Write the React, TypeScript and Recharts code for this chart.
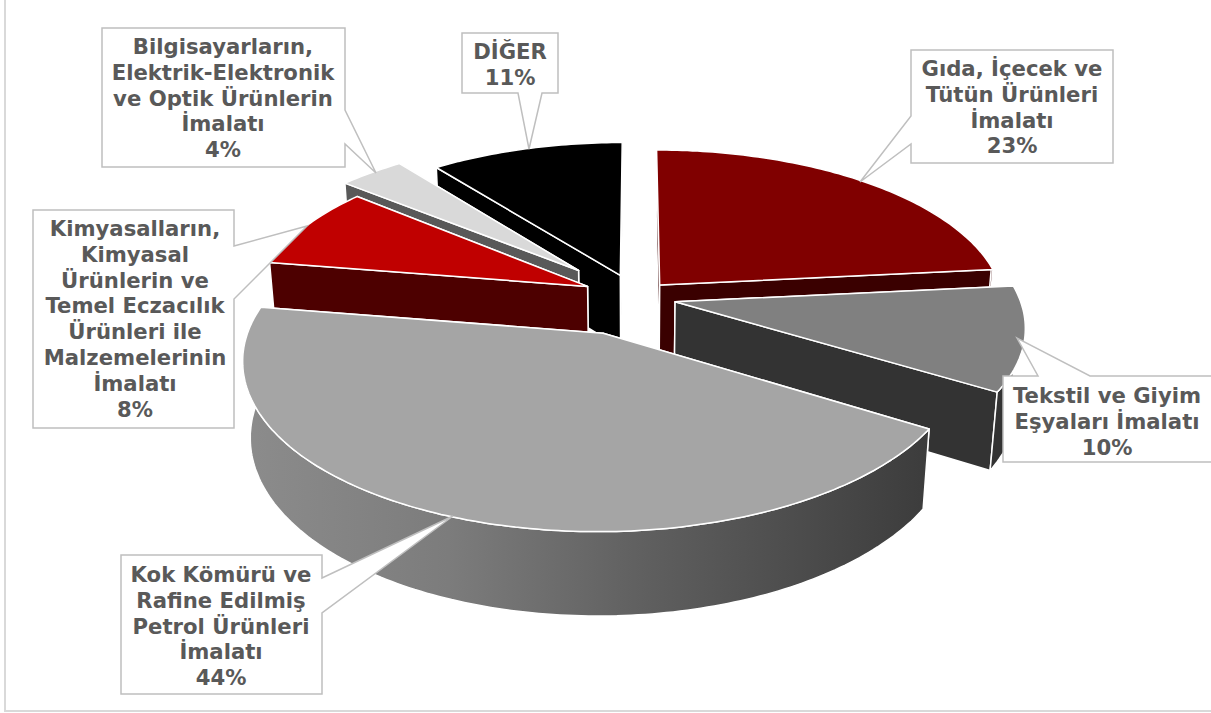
import { Pie, PieChart } from "recharts";

const categories = [
  "Gıda, İçecek ve Tütün Ürünleri İmalatı",
  "Tekstil ve Giyim Eşyaları İmalatı",
  "Kok Kömürü ve Rafine Edilmiş Petrol Ürünleri İmalatı",
  "Kimyasalların, Kimyasal Ürünlerin ve Temel Eczacılık Ürünleri ile Malzemelerinin İmalatı",
  "Bilgisayarların, Elektrik-Elektronik ve Optik Ürünlerin İmalatı",
  "DİĞER",
];
// labels show them rounded
const shares = [23.4, 10.4, 43.8, 8.4, 3.6, 10.5];

const rows = categories.map((name, i) => ({ name, value: shares[i] }));

// styling per slice, same order as categories
const topColors = ["#800000", "#808080", "#a5a5a5", "#c00000", "#d9d9d9", "#000000"];
const wallColors = ["#3a0000", "#333333", "url(#cokeWall)", "#4d0000", "#595959", "#000000"];
// how far each slice is pulled out, in the plane of the disc
const pullX = [25, 40, -31, -48, -58, -15];
const pullY = [33, -4, -70, 30, 66, 55];
const narrow = [1, 1, 1, 0.97, 1, 1];
// slices are painted back to front, not in data order
const paintOrder = [5, 0, 1, 4, 3, 2];

// 3d view of the disc
const TILT = (27.4 * Math.PI) / 180;
const FOCAL = 2100;
const HEIGHT = 85;

function project(cx: number, cy: number, X: number, Y: number, Z: number) {
  const depth = Y * Math.cos(TILT) - Z * Math.sin(TILT);
  const up = Y * Math.sin(TILT) + Z * Math.cos(TILT);
  const s = FOCAL / (FOCAL + depth);
  return [cx + X * s, cy - up * s];
}

const toPath = (pts: number[][]) =>
  "M" + pts.map((p) => `${p[0].toFixed(1)},${p[1].toFixed(1)}`).join("L") + "Z";

const sinOf = (deg: number) => Math.sin((deg * Math.PI) / 180);

function Slice3D(props: any) {
  const { cx, cy, outerRadius, startAngle, endAngle, index } = props;
  const ox = pullX[index];
  const oy = pullY[index];
  const at = (deg: number | null, z: number) => {
    if (deg === null) return project(cx, cy, ox, oy, z);
    const a = (deg * Math.PI) / 180;
    return project(cx, cy, ox + outerRadius * narrow[index] * Math.cos(a), oy + outerRadius * Math.sin(a), z);
  };
  const arcAngles: number[] = [];
  const steps = Math.max(8, Math.ceil(Math.abs(endAngle - startAngle)));
  for (let i = 0; i <= steps; i++) arcAngles.push(startAngle + ((endAngle - startAngle) * i) / steps);

  // only the part of the rim that faces the viewer gets a wall
  const frontAngles = arcAngles.filter((a) => sinOf(a) <= 0.12);
  // the cut face further back goes first
  const cuts = sinOf(startAngle) > sinOf(endAngle) ? [startAngle, endAngle] : [endAngle, startAngle];
  const topArc = arcAngles.map((a) => at(a, 0));
  const apex = at(null, 0);
  const apexLow = at(null, -HEIGHT);
  const wall = wallColors[index];
  const flat = wall.startsWith("url") ? "#5a5a5a" : wall;
  const line = { stroke: "#ffffff", strokeWidth: 1.5, strokeLinejoin: "round" as const };
  return (
    <g>
      {cuts.map((a) => (
        <path key={a} d={toPath([apex, at(a, 0), at(a, -HEIGHT), apexLow])} fill={flat} {...line} />
      ))}
      {frontAngles.length > 1 && (
        <path
          d={toPath([
            ...frontAngles.map((a) => at(a, 0)),
            ...frontAngles.map((a) => at(a, -HEIGHT)).reverse(),
          ])}
          fill={wall}
          {...line}
        />
      )}
      <path d={toPath([apex, ...topArc])} fill={topColors[index]} {...line} />
    </g>
  );
}

// callout outlines and text anchors, same order as categories
const calloutLines = [
  ["Gıda, İçecek ve", "Tütün Ürünleri", "İmalatı"],
  ["Tekstil ve Giyim", "Eşyaları İmalatı"],
  ["Kok Kömürü ve", "Rafine Edilmiş", "Petrol Ürünleri", "İmalatı"],
  ["Kimyasalların,", "Kimyasal", "Ürünlerin ve", "Temel Eczacılık", "Ürünleri ile", "Malzemelerinin", "İmalatı"],
  ["Bilgisayarların,", "Elektrik-Elektronik", "ve Optik Ürünlerin", "İmalatı"],
  ["DİĞER"],
];
const calloutPaths = [
  "M911,50H1113V163H911V144L860,182L911,116Z",
  "M1003,376H1038L1017,338L1090,376H1240V462H1003Z",
  "M121,555H322V578L453,516L322,613V694H121Z",
  "M33,210H234V246L307,226L234,299V428H33Z",
  "M102,28H345V110L376,173L345,144V167H102Z",
  "M462,33H558V93H542L529,149L518,93H462Z",
];
const calloutText = [
  [1012, 76],
  [1107, 403],
  [221, 582],
  [135, 236],
  [223, 54],
  [510, 59],
];

function Callout(props: any) {
  const { index } = props;
  const [x, y] = calloutText[index];
  const lines = [...calloutLines[index], `${Math.round(shares[index])}%`];
  return (
    <g>
      <path d={calloutPaths[index]} fill="#ffffff" stroke="#bfbfbf" strokeWidth={1.5} />
      <text
        x={x}
        y={y}
        textAnchor="middle"
        fontFamily="'DejaVu Sans'"
        fontWeight="bold"
        fontSize={21.2}
        fill="#595959"
      >
        {lines.map((l, i) => (
          <tspan key={i} x={x} y={y + i * 25.8}>
            {l}
          </tspan>
        ))}
      </text>
    </g>
  );
}

export default function App() {
  return (
    <div style={{ position: "absolute", left: 0, top: 0, width: 1211, height: 713, background: "#fff", overflow: "hidden" }}>
      <div style={{ position: "absolute", left: 4, top: -2, width: 1210, height: 714, border: "2px solid #d9d9d9", boxSizing: "border-box" }} />
      <PieChart
        width={1211}
        height={713}
        margin={{ top: 0, right: 0, bottom: 0, left: 0 }}
        style={{ position: "absolute", left: 0, top: 0 }}
      >
        <defs>
          <linearGradient id="cokeWall" x1="0" y1="0" x2="1" y2="0">
            <stop offset="0%" stopColor="#8c8c8c" />
            <stop offset="30%" stopColor="#7c7c7c" />
            <stop offset="60%" stopColor="#5e5e5e" />
            <stop offset="100%" stopColor="#3c3c3c" />
          </linearGradient>
        </defs>
        {paintOrder.map((sliceIndex, pass) => (
          <Pie
            key={sliceIndex}
            data={rows}
            dataKey="value"
            nameKey="name"
            cx={635}
            cy={300}
            outerRadius={345}
            startAngle={90}
            endAngle={-270}
            stroke="none"
            isAnimationActive={false}
            labelLine={false}
            label={pass === paintOrder.length - 1 ? (p: any) => <Callout {...p} /> : false}
            shape={(p: any) => (p.index === sliceIndex ? <Slice3D {...p} /> : <g />)}
          />
        ))}
      </PieChart>
    </div>
  );
}
